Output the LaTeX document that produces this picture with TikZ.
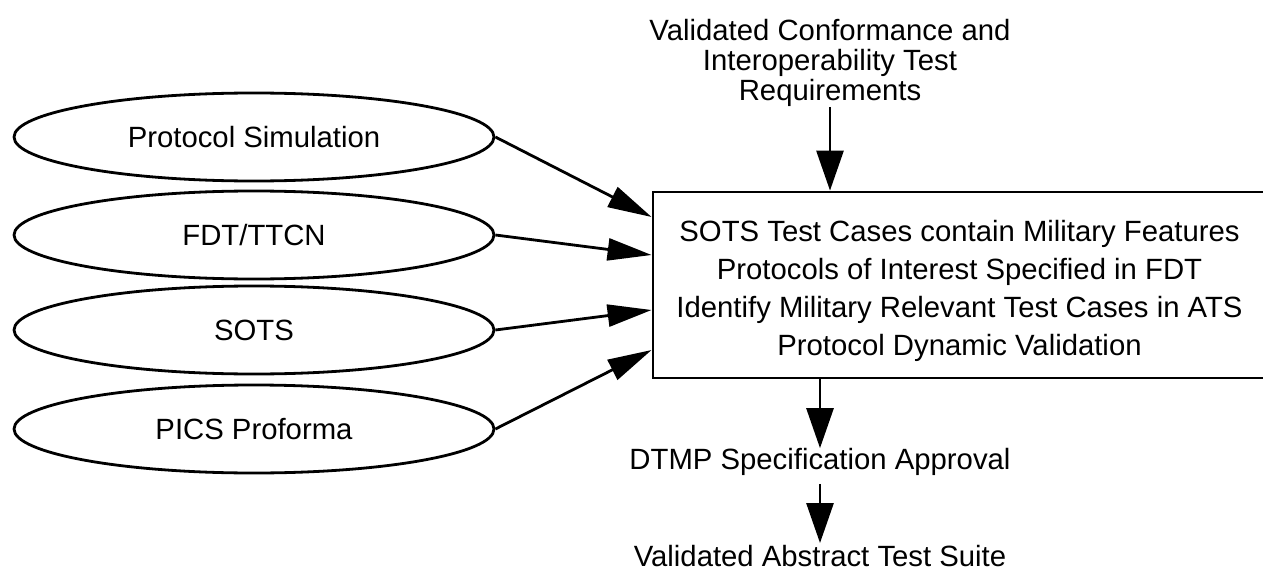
\documentclass[tikz,border=0pt]{standalone}
\usepackage{fontspec}
\setmainfont{Liberation Sans}
\usetikzlibrary{shapes.geometric,arrows.meta}
\begin{document}
\begin{tikzpicture}[x=1pt,y=-1pt,
  lbl/.style={font=\fontsize{29.3}{30}\selectfont, inner sep=0pt, align=center},
  source/.style={ellipse, draw, line width=2.8pt, minimum width=480pt,
    minimum height=88pt, inner sep=0pt, font=\fontsize{29.3}{30}\selectfont},
  task/.style={rectangle, draw, line width=2.8pt, minimum width=613pt,
    minimum height=186pt, inner sep=0pt, align=center,
    font=\fontsize{29.3}{38}\selectfont},
  feed/.style={line width=2.8pt, -{Triangle[length=44pt,width=22pt]}},
  flow/.style={line width=2.8pt, -{Triangle[length=40pt,width=27pt]}}]
\useasboundingbox (0,0) rectangle (1263,575);

% input sources
\node[source] (sim)  at (254,137) {Protocol Simulation};
\node[source] (fdt)  at (254,235) {FDT/TTCN};
\node[source] (sots) at (254,330) {SOTS};
\node[source] (pics) at (254,429) {PICS Proforma};

% central activity (the strut lowers the text block a little)
\node[task] (box) at (959.5,285) {\rule{0pt}{33pt}SOTS Test Cases contain Military Features\\
  Protocols of Interest Specified in FDT\\
  Identify Military Relevant Test Cases in ATS\\
  Protocol Dynamic Validation};

% requirement feeding the activity
\node[lbl] (req) at (830,63) {Validated Conformance and\\Interoperability Test\\Requirements};

% outputs
\node[lbl] (dtmp) at (820,462) {DTMP Specification Approval};
\node[lbl] (ats)  at (820,556) {Validated Abstract Test Suite};

% connectors
\draw[feed] (sim.east)  -- (box.west |- 0,217);
\draw[feed] (fdt.east)  -- (box.west |- 0,255);
\draw[feed] (sots.east) -- (box.west |- 0,310);
\draw[feed] (pics.east) -- (box.west |- 0,350);
\draw[flow] (req.south) -- (req.south |- box.north);
\draw[flow] (box.south -| dtmp.north) -- (dtmp.north);
\draw[flow] ([yshift=-8pt]dtmp.south) -- ([yshift=2pt]ats.north);
\end{tikzpicture}
\end{document}
